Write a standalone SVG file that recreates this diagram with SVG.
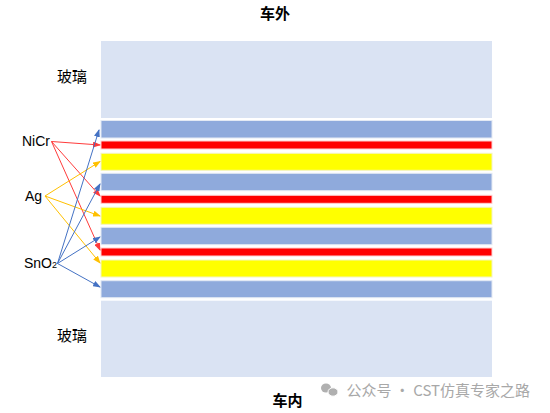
<svg xmlns="http://www.w3.org/2000/svg" width="550" height="413" viewBox="0 0 550 413">
<style>
.lbl{font-family:"Liberation Sans","Noto Sans CJK SC",sans-serif;font-size:14px;fill:#000}
.cn{font-family:"Noto Sans CJK SC",sans-serif;font-size:15px;fill:#000}
.glass{fill:#DAE3F3}
.blue{fill:#8FAADC;stroke:#E4EAF4;stroke-width:1}
.red{fill:#FF0000;stroke:#FFD0D0;stroke-width:1}
.yel{fill:#FFFF00;stroke:#F4F4C0;stroke-width:1}
.ar{stroke:#FF3B3B;fill:none;stroke-width:1}
.ay{stroke:#FFC000;fill:none;stroke-width:1}
.ab{stroke:#4472C4;fill:none;stroke-width:1}
.wm{font-family:"Noto Sans CJK SC",sans-serif;font-size:15px;fill:#A8A8A8}
</style>
<defs>
<marker id="mr" markerWidth="8" markerHeight="6" refX="7" refY="3" orient="auto" markerUnits="userSpaceOnUse"><path d="M0,0 L8,3 L0,6 Z" fill="#FF3B3B"/></marker>
<marker id="my" markerWidth="8" markerHeight="6" refX="7" refY="3" orient="auto" markerUnits="userSpaceOnUse"><path d="M0,0 L8,3 L0,6 Z" fill="#FFC000"/></marker>
<marker id="mb" markerWidth="8" markerHeight="6" refX="7" refY="3" orient="auto" markerUnits="userSpaceOnUse"><path d="M0,0 L8,3 L0,6 Z" fill="#4472C4"/></marker>
</defs>
<rect width="550" height="413" fill="#FFFFFF"/>
<text class="cn" x="275" y="19" text-anchor="middle" font-weight="bold">车外</text>
<g id="glass-top"><rect class="glass" x="101" y="41" width="391" height="77"/><text class="cn" x="72" y="82" text-anchor="middle">玻璃</text></g>
<g id="layers">
<rect id="sno2-1" class="blue" x="101" y="120.5" width="391" height="17.5"/>
<rect id="nicr-1" class="red" x="101" y="141" width="391" height="8"/>
<rect id="ag-1" class="yel" x="101" y="153.3" width="391" height="17"/>
<rect id="sno2-2" class="blue" x="101" y="173.3" width="391" height="17.4"/>
<rect id="nicr-2" class="red" x="101" y="195.3" width="391" height="8"/>
<rect id="ag-2" class="yel" x="101" y="207.3" width="391" height="17"/>
<rect id="sno2-3" class="blue" x="101" y="227.3" width="391" height="17.4"/>
<rect id="nicr-3" class="red" x="101" y="248" width="391" height="8"/>
<rect id="ag-3" class="yel" x="101" y="260" width="391" height="17"/>
<rect id="sno2-4" class="blue" x="101" y="280.7" width="391" height="17"/>
</g>
<g id="glass-bottom"><rect class="glass" x="101" y="300.7" width="391" height="76.3"/><text class="cn" x="72" y="341" text-anchor="middle">玻璃</text></g>
<g id="label-nicr"><text class="lbl" x="22" y="146">NiCr</text></g>
<g id="label-ag"><text class="lbl" x="25" y="201">Ag</text></g>
<g id="label-sno2"><text class="lbl" x="24" y="268">SnO<tspan font-size="9">2</tspan></text></g>
<g id="connectors">
<line class="ar" x1="51.5" y1="141.5" x2="100" y2="145" marker-end="url(#mr)"/>
<line class="ar" x1="51.5" y1="141.5" x2="100" y2="196" marker-end="url(#mr)"/>
<line class="ar" x1="51.5" y1="141.5" x2="100" y2="250" marker-end="url(#mr)"/>
<line class="ay" x1="45" y1="196" x2="100" y2="161.5" marker-end="url(#my)"/>
<line class="ay" x1="45" y1="196" x2="100" y2="216" marker-end="url(#my)"/>
<line class="ay" x1="45" y1="196" x2="100" y2="263" marker-end="url(#my)"/>
<line class="ab" x1="57.5" y1="263.5" x2="99" y2="130" marker-end="url(#mb)"/>
<line class="ab" x1="57.5" y1="263.5" x2="100" y2="184" marker-end="url(#mb)"/>
<line class="ab" x1="57.5" y1="263.5" x2="100" y2="237" marker-end="url(#mb)"/>
<line class="ab" x1="57.5" y1="263.5" x2="100" y2="287" marker-end="url(#mb)"/>
</g>
<text class="cn" x="287.5" y="406" text-anchor="middle" font-weight="bold">车内</text>
<g id="watermark">
<ellipse cx="326" cy="388" rx="5" ry="4.5" fill="#B0B0B0"/>
<ellipse cx="333" cy="392" rx="5" ry="4.2" fill="#B0B0B0" stroke="#FFFFFF" stroke-width="1"/>
<text class="wm" x="346.5" y="396">公众号 · CST仿真专家之路</text>
</g>
</svg>
